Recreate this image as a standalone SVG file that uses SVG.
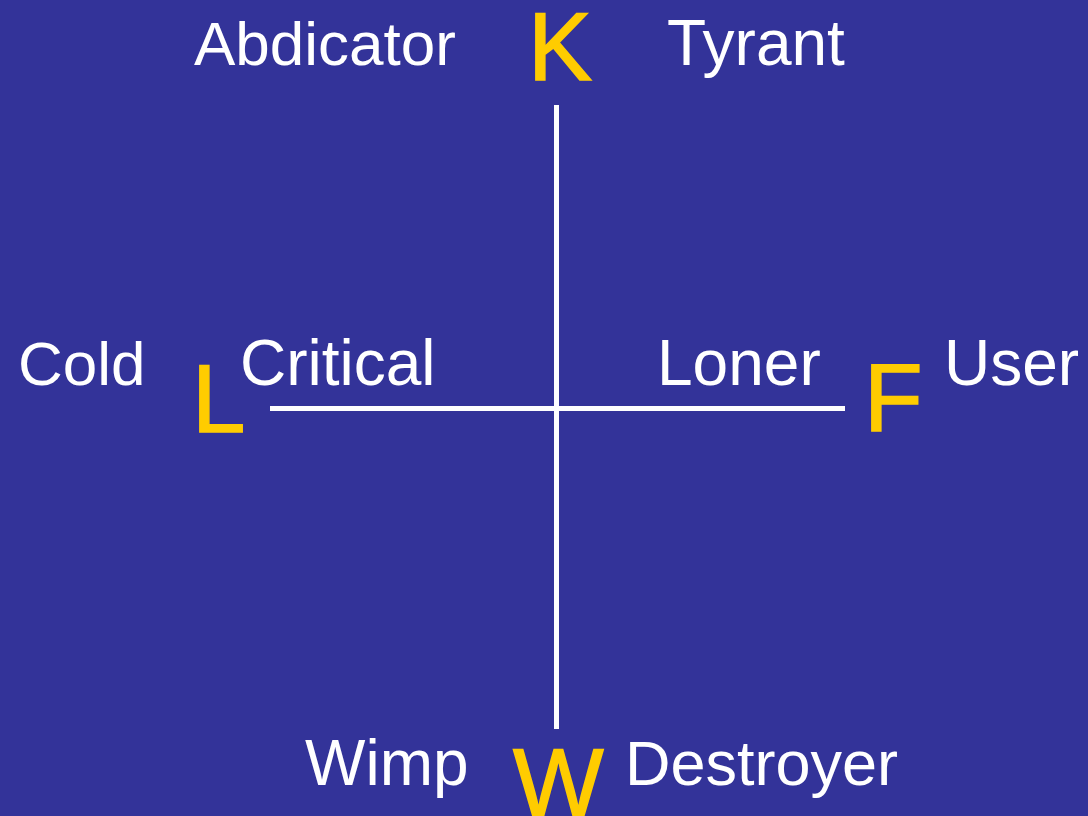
<svg xmlns="http://www.w3.org/2000/svg" width="1088" height="816" viewBox="0 0 1088 816">
  <style>
    .lbl { font-family: "Liberation Sans", Arial, sans-serif; font-size: 64px; fill: #ffffff; }
    .sm { font-size: 62px; }
    .axis { font-family: "Liberation Sans", Arial, sans-serif; font-size: 96px; fill: #ffcc00; stroke: #ffcc00; stroke-width: 1.5px; }
    .line { stroke: #ffffff; stroke-width: 5; fill: none; }
  </style>
  <rect x="0" y="0" width="1088" height="816" fill="#333399"/>
  <g id="connectors">
    <line class="line" x1="556.5" y1="105" x2="556.5" y2="729"/>
    <line class="line" x1="270" y1="408.5" x2="845" y2="408.5"/>
  </g>
  <g id="node-K"><text class="axis" x="528" y="80">K</text></g>
  <g id="node-L"><text class="axis" x="192" y="432">L</text></g>
  <g id="node-F"><text class="axis" x="864" y="431">F</text></g>
  <g id="node-W"><text class="axis" x="513" y="816">W</text></g>
  <g id="node-abdicator"><text class="lbl sm" x="194" y="65">Abdicator</text></g>
  <g id="node-tyrant"><text class="lbl" x="667" y="65">Tyrant</text></g>
  <g id="node-cold"><text class="lbl sm" x="18" y="385">Cold</text></g>
  <g id="node-critical"><text class="lbl" x="240" y="385">Critical</text></g>
  <g id="node-loner"><text class="lbl" x="657" y="385">Loner</text></g>
  <g id="node-user"><text class="lbl" x="944" y="385">User</text></g>
  <g id="node-wimp"><text class="lbl" x="305" y="785">Wimp</text></g>
  <g id="node-destroyer"><text class="lbl" x="625" y="785" style="font-size:63px">Destroyer</text></g>
</svg>
